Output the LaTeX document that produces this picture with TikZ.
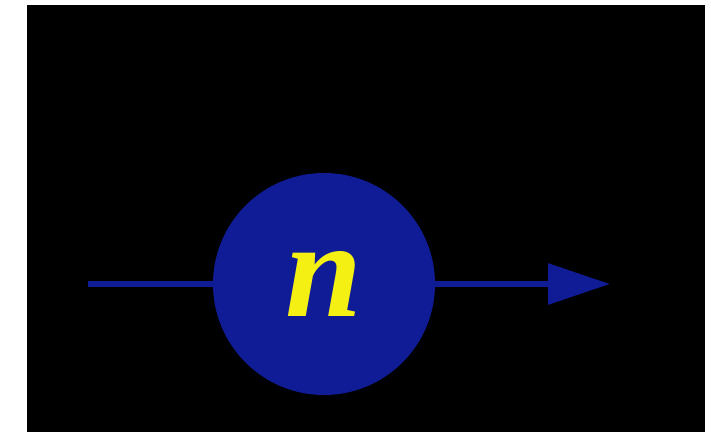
\documentclass[tikz,border=0pt]{standalone}
\usepackage{fontspec}
\setmainfont{Liberation Serif}
\usetikzlibrary{arrows.meta}
\definecolor{Deep}{RGB}{16,28,150}
\definecolor{Sun}{RGB}{245,240,20}
\begin{document}
\begin{tikzpicture}[x=1pt,y=1pt,
 c/.style={circle,fill=Deep,minimum size=222pt,inner sep=0pt,text=Sun,font=\fontsize{138}{138}\selectfont\bfseries\itshape},
 a/.style={line width=6pt,Deep}]
\fill[white] (0,0) rectangle (711,432);
\fill[black] (27,0) rectangle (705,427);
\coordinate (in) at (88,148);
\coordinate (out) at (610,148);
\node[c] (n) at (324,148) {n};
\draw[a] (in)--(n);\draw[a,-{Triangle[length=62pt,width=40pt]}] (n)--(out);
\end{tikzpicture}
\end{document}
